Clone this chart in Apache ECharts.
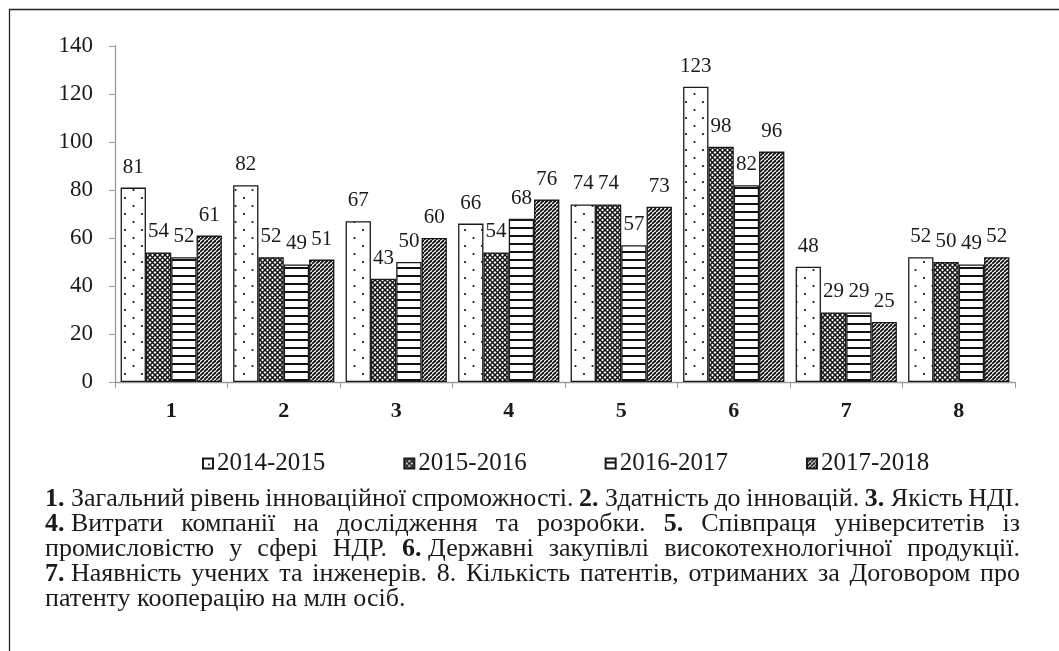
<!DOCTYPE html>
<html><head><meta charset="utf-8">
<script src="https://cdn.jsdelivr.net/npm/echarts@6/dist/echarts.min.js"></script>
<style>html,body{margin:0;padding:0;background:#fff}#c{width:1059px;height:651px}</style>
</head><body><div id="c"></div>
<script>
// ---------- data ----------
const categories = ['1', '2', '3', '4', '5', '6', '7', '8'];
const seriesNames = ['2014-2015', '2015-2016', '2016-2017', '2017-2018'];
const v2014_2015 = [81, 82, 67, 66, 74, 123, 48, 52];
const v2015_2016 = [54, 52, 43, 54, 74, 98, 29, 50];
const v2016_2017 = [52, 49, 50, 68, 57, 82, 29, 49];
const v2017_2018 = [61, 51, 60, 76, 73, 96, 25, 52];
const yMin = 0, yMax = 140, yInterval = 20;
const captionLines = [
  '**1.**\u00a0Загальний рівень інноваційної спроможності. **2.**\u00a0Здатність до інновацій. **3.**\u00a0Якість НДІ.',
  '**4.**\u00a0Витрати компанії на дослідження та розробки. **5.** Співпраця університетів із',
  'промисловістю у сфері НДР. **6.**\u00a0Державні закупівлі високотехнологічної продукції.',
  '**7.**\u00a0Наявність учених та інженерів. 8. Кількість патентів, отриманих за Договором про',
  'патенту кооперацію на млн осіб.'
];

// ---------- styles ----------
const SERIF = '"Liberation Serif", "Times New Roman", serif';
const INK = '#1a1a1a';
function tile(w, h, draw) {
  const c = document.createElement('canvas'); c.width = w; c.height = h;
  const g = c.getContext('2d');
  g.fillStyle = '#fff'; g.fillRect(0, 0, w, h);
  g.fillStyle = '#111'; g.strokeStyle = '#111';
  draw(g, w, h);
  return { image: c, repeat: 'repeat' };
}
const pDots = tile(17, 16, (g) => {
  g.beginPath(); g.arc(6, 6, 1.1, 0, 2 * Math.PI); g.fill();
  g.beginPath(); g.arc(14.5, 14, 1.1, 0, 2 * Math.PI); g.fill();
});
const pCross = tile(5, 5, (g, w, h) => {
  g.lineWidth = 1.5;
  for (let k = -1; k <= 1; k++) {
    g.beginPath(); g.moveTo(k * w, 0); g.lineTo(k * w + w, h); g.stroke();
    g.beginPath(); g.moveTo(k * w, h); g.lineTo(k * w + w, 0); g.stroke();
  }
});
const pHoriz = tile(8, 8, (g) => { g.fillRect(0, 3, 8, 2); });
const pDiag = tile(4, 4, (g, w, h) => {
  g.lineWidth = 1.8;
  for (let k = -1; k <= 1; k++) {
    g.beginPath(); g.moveTo(k * w, h); g.lineTo(k * w + w, 0); g.stroke();
  }
});
const fills = [pDots, pCross, pHoriz, pDiag];
const values = [v2014_2015, v2015_2016, v2016_2017, v2017_2018];

// ---------- caption layout ----------
const capSize = 26, capX0 = 45, capX1 = 1020, capY0 = 499, capDY = 25;
const mctx = document.createElement('canvas').getContext('2d');
function fontStr(b) { return (b ? 'bold ' : '') + capSize + 'px ' + SERIF; }
function parseToken(tok) {
  const segs = []; const re = /\*\*(.+?)\*\*/g; let last = 0, m;
  while ((m = re.exec(tok))) {
    if (m.index > last) segs.push({ b: false, t: tok.slice(last, m.index) });
    segs.push({ b: true, t: m[1] }); last = re.lastIndex;
  }
  if (last < tok.length) segs.push({ b: false, t: tok.slice(last) });
  segs.forEach(s => { mctx.font = fontStr(s.b); s.w = mctx.measureText(s.t).width; });
  return segs;
}
const captionGraphics = [];
mctx.font = fontStr(false);
const spaceW = mctx.measureText(' ').width;
captionLines.forEach((line, i) => {
  const toks = line.split(' ').map(parseToken);
  const widths = toks.map(ss => ss.reduce((a, s) => a + s.w, 0));
  const total = widths.reduce((a, b) => a + b, 0);
  const justify = i < captionLines.length - 1;
  let gap = justify ? (capX1 - capX0 - total) / (toks.length - 1) : spaceW;
  let scale = 1;
  if (gap < spaceW * 0.5) {
    scale = (capX1 - capX0 - spaceW * 0.5 * (toks.length - 1)) / total;
    gap = spaceW * 0.5;
  }
  let x = capX0;
  const y = capY0 + i * capDY;
  toks.forEach((ss) => {
    ss.forEach(s => {
      captionGraphics.push({
        type: 'text', x: x, y: y, scaleX: scale, silent: true,
        style: { text: s.t, font: fontStr(s.b), fill: INK, align: 'left', verticalAlign: 'middle' }
      });
      x += s.w * scale;
    });
    x += gap;
  });
});

// ---------- chart ----------
const chart = echarts.init(document.getElementById('c'), null, { renderer: 'canvas' });
chart.setOption({
  backgroundColor: '#fff',
  animation: false,
  grid: { left: 115, top: 46, width: 900, height: 336, containLabel: false },
  legend: {
    left: 197, top: 446, itemWidth: 10, itemHeight: 10, itemGap: 78,
    icon: 'rect',
    textStyle: { fontFamily: SERIF, fontSize: 25, color: INK, padding: [0, 0, 0, -1] },
    data: seriesNames
  },
  xAxis: {
    type: 'category', data: categories,
    axisLine: { lineStyle: { color: '#9a9a9a', width: 1.3 } },
    axisTick: { show: true, length: 6, lineStyle: { color: '#9a9a9a' } },
    axisLabel: { fontFamily: SERIF, fontSize: 22, fontWeight: 'bold', color: INK, margin: 18 }
  },
  yAxis: {
    type: 'value', min: yMin, max: yMax, interval: yInterval,
    splitLine: { show: false },
    axisLine: { show: true, lineStyle: { color: '#9a9a9a', width: 1.3 } },
    axisTick: { show: true, length: 6, lineStyle: { color: '#9a9a9a' } },
    axisLabel: { fontFamily: SERIF, fontSize: 23, color: INK, margin: 22 }
  },
  series: seriesNames.map((name, i) => ({
    name: name, type: 'bar', data: values[i],
    barGap: '0%', barCategoryGap: '10%',
    itemStyle: { color: fills[i], borderColor: '#1a1a1a', borderWidth: 1.3 },
    label: { show: true, position: 'top', distance: 10, fontFamily: SERIF, fontSize: 21, color: INK }
  })),
  graphic: [
    { type: 'rect', silent: true, shape: { x: 9.5, y: 9.5, width: 1200, height: 800 },
      style: { fill: 'none', stroke: '#222', lineWidth: 1.3 } }
  ].concat(captionGraphics)
});
</script></body></html>
